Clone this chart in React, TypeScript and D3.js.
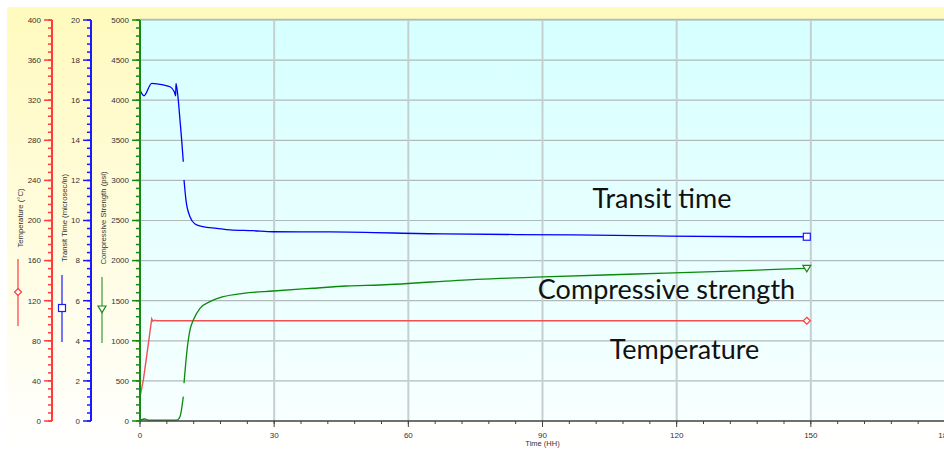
import React from "react";
import * as d3 from "d3";

// Elapsed time (hours) and readings for each channel
const transitHours = [0, 0.89, 2.62, 5.21, 6.71, 7.67, 7.98, 8.05, 8.56, 8.94, 9.32, 9.68, 9.76, 9.84, 10.28, 11.18, 12.3, 14.08, 17.15, 20.12, 25.26, 29.73, 42.48, 67.74, 96.8, 115.58, 136.4, 149.1];
const transitValues = [16.51, 16.22, 16.84, 16.76, 16.67, 16.42, 16.22, 16.84, 16.01, 15.01, 14.01, 12.93, NaN, 12.02, 11.02, 10.19, 9.83, 9.69, 9.61, 9.53, 9.49, 9.44, 9.43, 9.33, 9.28, 9.23, 9.19, 9.19];

const strengthHours = [0, 1.1, 1.8, 8.2, 8.94, 9.68, 9.76, 9.84, 10.44, 11.18, 11.92, 13.41, 15.65, 18.62, 23.09, 29.8, 38.74, 46.21, 53.66, 75.28, 90.1, 111.05, 131.9, 149.1];
const strengthValues = [12, 25, 12, 12, 54, 303, NaN, 470, 844, 1135, 1259, 1405, 1488, 1550, 1592, 1621, 1655, 1683, 1696, 1767, 1796, 1833, 1870, 1904];

const tempHours = [0, 0.75, 1.5, 2.2, 2.62, 2.9, 3.3, 3.7, 149.1];
const tempValues = [24, 41, 65, 88, 102, 99.5, 100.6, 100, 100];

const timeTicks = [0, 30, 60, 90, 120, 150, 180];
const tempTicks = d3.range(0, 401, 40);
const transitTicks = d3.range(0, 21, 2);
const strengthTicks = d3.range(0, 5001, 500);

const W = 944;
const H = 450;
const plotLeft = 140;
const plotTop = 20;
const plotBottom = 421;

const x = d3.scaleLinear().domain([0, 180]).range([plotLeft, 945]);
const yStrength = d3.scaleLinear().domain([0, 5000]).range([plotBottom, plotTop]);
const yTemp = d3.scaleLinear().domain([0, 400]).range([plotBottom, plotTop]);
const yTransit = d3.scaleLinear().domain([0, 20]).range([plotBottom, plotTop]);

const RED = "#ff3b3b";
const BLUE = "#1a1aff";
const GREEN = "#138a13";
const tickFont = "'Liberation Sans', Arial, sans-serif";

type YAxisProps = {
  scale: d3.ScaleLinear<number, number>;
  axisX: number;
  ticks: number[];
  minorStep: number;
  color: string;
};

function YAxis({ scale, axisX, ticks, minorStep, color }: YAxisProps) {
  const [lo, hi] = scale.domain();
  const minors = d3.range(lo, hi + minorStep / 2, minorStep);
  return (
    <g>
      {minors.map((v, i) => (
        <line key={"m" + i} x1={axisX - 4} x2={axisX} y1={scale(v)} y2={scale(v)} stroke={color} strokeWidth={1.5} />
      ))}
      {ticks.map((v) => (
        <g key={v}>
          <line x1={axisX - 8} x2={axisX} y1={scale(v)} y2={scale(v)} stroke={color} strokeWidth={1.5} />
          <text x={axisX - 11} y={scale(v)} dy="0.35em" textAnchor="end" fontSize={8} fontFamily={tickFont} fill="#333">
            {v}
          </text>
        </g>
      ))}
      <line x1={axisX} x2={axisX} y1={scale(hi)} y2={scale(lo)} stroke={color} strokeWidth={2} />
    </g>
  );
}

function makeLine(
  hours: number[],
  values: number[],
  y: d3.ScaleLinear<number, number>,
  curve: d3.CurveFactory = d3.curveLinear
) {
  const pts = hours.map((h, i) => [h, values[i]] as [number, number]);
  return d3
    .line<[number, number]>()
    .defined((d) => !isNaN(d[1]))
    .curve(curve)
    .x((d) => x(d[0]))
    .y((d) => y(d[1]))(pts) as string;
}

export default function App() {
  const xMinor = d3.range(0, 181, 6);
  const endT = transitHours[transitHours.length - 1];
  const sq = { x: x(endT), y: yTransit(transitValues[transitValues.length - 1]) };
  const tri = { x: x(endT), y: yStrength(strengthValues[strengthValues.length - 1]) };
  const dia = { x: x(endT), y: yTemp(tempValues[tempValues.length - 1]) };

  return (
    <svg width={W} height={H} style={{ position: "absolute", left: 0, top: 0, display: "block" }}>
      <defs>
        <linearGradient id="panelBg" x1="0" y1="0" x2="0" y2="1">
          <stop offset="0" stopColor="#fffabd" />
          <stop offset="1" stopColor="#ffffff" />
        </linearGradient>
        <linearGradient id="plotBg" x1="0" y1="0" x2="0" y2="1">
          <stop offset="0" stopColor="#d6ffff" />
          <stop offset="1" stopColor="#f8ffff" />
        </linearGradient>
      </defs>
      <rect x={0} y={0} width={W} height={H} fill="#ffffff" />
      <rect x={7} y={7} width={W - 7} height={H - 7} fill="url(#panelBg)" />
      <rect x={plotLeft} y={plotTop} width={W - plotLeft} height={plotBottom - plotTop} fill="url(#plotBg)" />
      <line x1={plotLeft} x2={W} y1={plotTop - 0.5} y2={plotTop - 0.5} stroke="#b4bcbc" strokeWidth={1.5} />

      {/* grid */}
      {strengthTicks.slice(1).map((v) => (
        <line key={"h" + v} x1={plotLeft} x2={W} y1={yStrength(v)} y2={yStrength(v)} stroke="#b0baba" strokeWidth={1.2} />
      ))}
      {timeTicks.slice(1).map((t) => (
        <line key={"v" + t} x1={x(t)} x2={x(t)} y1={plotTop} y2={plotBottom} stroke="#c6cfcf" strokeWidth={2} />
      ))}

      {/* series */}
      <path d={makeLine(tempHours, tempValues, yTemp)} fill="none" stroke="#f25050" strokeWidth={1.4} />
      <path d={makeLine(strengthHours, strengthValues, yStrength, d3.curveMonotoneX)} fill="none" stroke="#0a8a0a" strokeWidth={1.3} />
      <path d={makeLine(transitHours, transitValues, yTransit, d3.curveMonotoneX)} fill="none" stroke="#0000ff" strokeWidth={1.3} />

      {/* end markers */}
      <rect x={sq.x - 3.5} y={sq.y - 3.5} width={7} height={7} fill="#ffffff" stroke={BLUE} strokeWidth={1.2} />
      <path d={`M${tri.x - 4},${tri.y - 3} L${tri.x + 4},${tri.y - 3} L${tri.x},${tri.y + 3.5} Z`} fill="#ffffff" stroke={GREEN} strokeWidth={1.2} />
      <path d={`M${dia.x},${dia.y - 3.5} L${dia.x + 3.5},${dia.y} L${dia.x},${dia.y + 3.5} L${dia.x - 3.5},${dia.y} Z`} fill="#ffffff" stroke={RED} strokeWidth={1.2} />

      {/* x axis */}
      <line x1={plotLeft} x2={W} y1={plotBottom} y2={plotBottom} stroke="#404040" strokeWidth={1.5} />
      {xMinor.map((t) => (
        <line key={"xm" + t} x1={x(t)} x2={x(t)} y1={plotBottom} y2={plotBottom + 3} stroke="#404040" strokeWidth={1} />
      ))}
      {timeTicks.map((t) => (
        <g key={"xt" + t}>
          <line x1={x(t)} x2={x(t)} y1={plotBottom} y2={plotBottom + 6} stroke="#404040" strokeWidth={1} />
          <text x={x(t)} y={plotBottom + 17} textAnchor="middle" fontSize={8} fontFamily={tickFont} fill="#333">
            {t}
          </text>
        </g>
      ))}
      <text x={x(90)} y={plotBottom + 25} textAnchor="middle" fontSize={7.5} fontFamily={tickFont} fill="#333">
        Time (HH)
      </text>

      {/* y axes */}
      <YAxis scale={yTemp} axisX={52} ticks={tempTicks} minorStep={8} color={RED} />
      <YAxis scale={yTransit} axisX={91} ticks={transitTicks} minorStep={0.4} color={BLUE} />
      <YAxis scale={yStrength} axisX={140} ticks={strengthTicks} minorStep={100} color={GREEN} />

      {/* axis titles with series keys */}
      <text transform="translate(23,218) rotate(-90)" textAnchor="middle" fontSize={7.7} fontFamily={tickFont} fill="#333">
        Temperature (°C)
      </text>
      <line x1={18} x2={18} y1={259} y2={326} stroke={RED} strokeWidth={1.2} />
      <path d="M18,288.5 L21.5,292 L18,295.5 L14.5,292 Z" fill="#ffffff" stroke={RED} strokeWidth={1.2} />

      <text transform="translate(67,218) rotate(-90)" textAnchor="middle" fontSize={7.7} fontFamily={tickFont} fill="#333">
        Transit Time (microsec/in)
      </text>
      <line x1={62} x2={62} y1={275} y2={342} stroke={BLUE} strokeWidth={1.2} />
      <rect x={58.5} y={304.5} width={7} height={7} fill="#ffffff" stroke={BLUE} strokeWidth={1.2} />

      <text transform="translate(106,218) rotate(-90)" textAnchor="middle" fontSize={7.7} fontFamily={tickFont} fill="#333">
        Compressive Strength (psi)
      </text>
      <line x1={102} x2={102} y1={277} y2={343} stroke="#3a9a3a" strokeWidth={1.2} />
      <path d="M98,306 L106,306 L102,312.5 Z" fill="#ffffff" stroke={GREEN} strokeWidth={1.2} />

      {/* series labels */}
      <text x={662} y={208} textAnchor="middle" fontSize={27} fontFamily="Lato, 'Open Sans', sans-serif" fill="#111">
        Transit time
      </text>
      <text x={666.5} y={298.5} textAnchor="middle" fontSize={27} fontFamily="Lato, 'Open Sans', sans-serif" fill="#111">
        Compressive strength
      </text>
      <text x={684.5} y={358.5} textAnchor="middle" fontSize={27} fontFamily="Lato, 'Open Sans', sans-serif" fill="#111">
        Temperature
      </text>
    </svg>
  );
}
